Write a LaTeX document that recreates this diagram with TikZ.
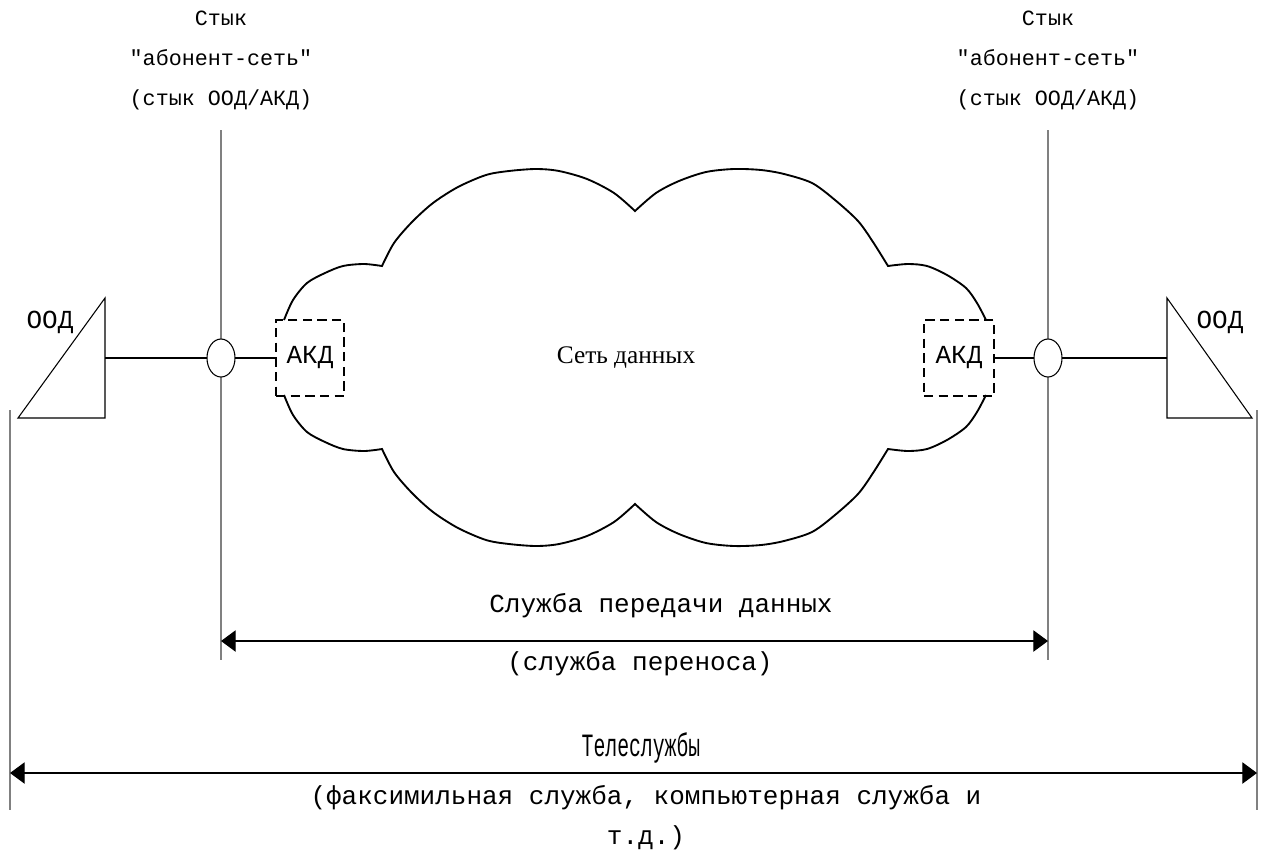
\documentclass[tikz,border=0pt]{standalone}
\usepackage{fontspec}
\usepackage{graphicx}
\setmainfont{Liberation Serif}
\newfontfamily\monof{Liberation Mono}[Ligatures=TeXOff]
\usetikzlibrary{arrows.meta,shapes.geometric}
\begin{document}
\begin{tikzpicture}[x=0.75pt,y=-0.75pt,
  lbl/.style={font=\monof\fontsize{16.3}{30}\selectfont, align=center, inner sep=0pt},
  big/.style={font=\monof\fontsize{19.5}{30}\selectfont, align=center, inner sep=0pt},
  guide/.style={draw={rgb,255:red,128;green,128;blue,128}, line width=1.1pt},
  wire/.style={draw=black, line width=0.8pt},
  port/.style={ellipse, draw, fill=white, line width=0.8pt, minimum width=21pt, minimum height=28.5pt, inner sep=0pt, outer sep=0pt},
  akd/.style={draw, line width=2.2pt, dash pattern=on 7pt off 4pt, minimum height=57pt, inner sep=0pt, outer sep=0pt, font=\monof\fontsize{19.5}{22}\selectfont},
  span/.style={line width=0.9pt, {Triangle[length=11pt,width=16pt]}-{Triangle[length=11pt,width=16pt]}},
  cloudline/.style={line width=1.4pt}
]
\useasboundingbox (0,0) rectangle (1264,854);

% guide lines
\coordinate (lgTop) at (221,130); \coordinate (lgBot) at (221,660);
\coordinate (rgTop) at (1048,130); \coordinate (rgBot) at (1048,660);
\coordinate (loTop) at (10,410); \coordinate (loBot) at (10,810);
\coordinate (roTop) at (1257,410); \coordinate (roBot) at (1257,810);
\draw[guide] (lgTop) -- (lgBot);
\draw[guide] (rgTop) -- (rgBot);
\draw[guide] (loTop) -- (loBot);
\draw[guide] (roTop) -- (roBot);

% interface labels
\node[lbl] (lstyk) at (221,60) {Стык\\"абонент-сеть"\\(стык ООД/АКД)};
\node[lbl] (rstyk) at (1048,60) {Стык\\"абонент-сеть"\\(стык ООД/АКД)};

% cloud (upper half, then mirrored)
\def\cloudhalf{%
  \draw[cloudline] plot[smooth] coordinates {(284,320) (293,300) (307,283) (325,273) (343,266) (364,264) (382,266)}
    -- plot[smooth] coordinates {(382,266) (394,243) (412,222) (433,203) (458,187) (486,175) (509,171) (536,169) (559,171) (587,179) (614,193) (635,211)}
    -- plot[smooth] coordinates {(635,211) (656,193) (679,181) (706,172) (734,169) (761,170) (784,174) (812,183) (835,200) (858,221) (873,242) (888,266)}
    -- plot[smooth] coordinates {(888,266) (908,264) (927,266) (947,275) (966,288) (977,303) (986,320)};}
\cloudhalf
\begin{scope}[shift={(0,715)}, yscale=-1]
\cloudhalf
\end{scope}

\node[font=\fontsize{19}{24}\selectfont, inner sep=0pt] (net) at (626,358) {Сеть данных};

% ADC boxes
\node[akd, minimum width=51pt] (lakd) at (310,358) {АКД};
\node[akd, minimum width=52.5pt] (rakd) at (959,358) {АКД};

% ports
\node[port] (lport) at (221,358) {};
\node[port] (rport) at (1048,358) {};

% DTE triangles
\coordinate (ltTop) at (105,298); \coordinate (ltBL) at (18,418); \coordinate (ltBR) at (105,418);
\coordinate (ltMid) at (105,358);
\draw[wire] (ltBL) -- (ltTop) -- (ltBR) -- cycle;
\coordinate (rtTop) at (1167,298); \coordinate (rtBR) at (1252,418); \coordinate (rtBL) at (1167,418);
\coordinate (rtMid) at (1167,358);
\draw[wire] (rtBR) -- (rtTop) -- (rtBL) -- cycle;
\node[big] (lood) at (50,322) {ООД};
\node[big] (rood) at (1220,322) {ООД};

% connectors
\draw[wire] (ltMid) -- (lport.west);
\draw[wire] (lport.east) -- (lakd.west);
\draw[wire] (rakd.east) -- (rport.west);
\draw[wire] (rport.east) -- (rtMid);

% data service span
\coordinate (daL) at (221,641); \coordinate (daR) at (1048,641);
\draw[span] (daL) -- (daR);
\node[big] (ds1) at (661,606) {Служба передачи данных};
\node[big] (ds2) at (640,664) {(служба переноса)};

% teleservices span
\coordinate (teL) at (10,773); \coordinate (teR) at (1257,773);
\draw[span] (teL) -- (teR);
\node[big] (ts1) at (641,748) {\scalebox{0.76}[1.25]{Телеслужбы}};
\node[big] (ts2) at (646,818) {(факсимильная служба, компьютерная служба и\\т.д.)};
\end{tikzpicture}
\end{document}
